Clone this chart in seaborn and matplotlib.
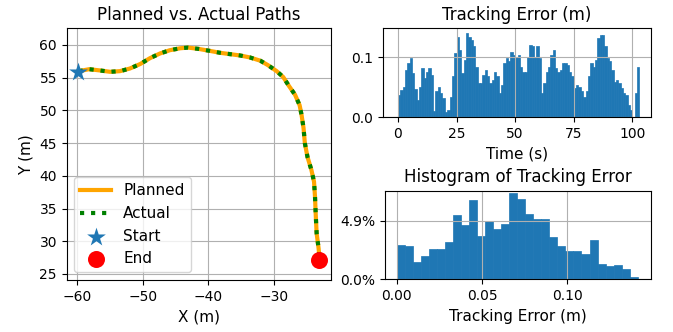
"""
Path tracking summary
- left: planned vs. actual path with start / end markers
- top right: tracking error over time
- bottom right: histogram of the tracking error (share of samples per bin)
"""

import matplotlib
matplotlib.use("Agg")
import matplotlib.pyplot as plt
from matplotlib.ticker import PercentFormatter
import seaborn as sns

# -----------------------------
# Data
# -----------------------------
planned_x = [-59.8, -58.2, -56.5, -55.0, -53.5, -52.0, -50.4, -48.9, -47.4, -45.9,
             -44.3, -43.1, -41.5, -39.8, -38.2, -36.7, -35.2, -33.7, -32.1, -30.9,
             -29.6, -28.6, -27.7, -26.8, -26.1, -25.8, -25.5, -25.3, -24.9, -24.3,
             -23.9, -23.75, -23.65, -23.5, -23.2, -23.1]
planned_y = [56.0, 56.3, 56.1, 55.9, 56.0, 56.4, 57.1, 58.0, 58.7, 59.2,
             59.5, 59.6, 59.4, 59.1, 58.8, 58.6, 58.4, 58.1, 57.6, 56.9,
             56.0, 55.1, 53.7, 52.4, 50.8, 49.3, 47.3, 45.0, 42.9, 40.9,
             39.1, 36.8, 34.3, 31.2, 28.9, 27.8]
# actual path sits on top of the planned one at this scale
actual_x = list(planned_x)
actual_y = list(planned_y)

start_xy = (-59.85, 55.8)
end_xy = (-23.1, 27.2)

time_s = list(range(0, 103))
tracking_error = [
    0.037, 0.046, 0.050, 0.078, 0.090, 0.098, 0.073, 0.047, 0.029, 0.051,
    0.082, 0.065, 0.076, 0.082, 0.070, 0.010, 0.043, 0.050, 0.040, 0.032,
    0.008, 0.012, 0.034, 0.068, 0.107, 0.134, 0.112, 0.073, 0.096, 0.140,
    0.134, 0.129, 0.118, 0.084, 0.057, 0.057, 0.070, 0.079, 0.068, 0.057,
    0.062, 0.076, 0.068, 0.040, 0.054, 0.090, 0.098, 0.093, 0.109, 0.104,
    0.101, 0.104, 0.084, 0.076, 0.076, 0.101, 0.121, 0.118, 0.101, 0.118,
    0.098, 0.040, 0.057, 0.076, 0.084, 0.104, 0.112, 0.082, 0.076, 0.079,
    0.090, 0.090, 0.087, 0.076, 0.068, 0.048, 0.054, 0.051, 0.043, 0.034,
    0.043, 0.068, 0.090, 0.084, 0.096, 0.132, 0.137, 0.137, 0.118, 0.098,
    0.093, 0.079, 0.059, 0.062, 0.057, 0.048, 0.040, 0.037, 0.021, 0.012,
    0.001, 0.040, 0.084,
]

# histogram: 30 bins over [0, 0.1413], share of samples per bin
hist_lo, hist_hi, n_bins = 0.0, 0.1413, 30
hist_share = [
    0.0290, 0.0278, 0.0142, 0.0195, 0.0251, 0.0251, 0.0309, 0.0535, 0.0451, 0.0663,
    0.0365, 0.0490, 0.0420, 0.0459, 0.0718, 0.0671, 0.0543, 0.0504, 0.0504, 0.0354,
    0.0278, 0.0239, 0.0239, 0.0214, 0.0326, 0.0131, 0.0114, 0.0120, 0.0084, 0.0019,
]
bin_w = (hist_hi - hist_lo) / n_bins
bin_mid = [hist_lo + (i + 0.5) * bin_w for i in range(n_bins)]

# -----------------------------
# Figure layout
# -----------------------------
fig = plt.figure(figsize=(6.73, 3.32), dpi=100)
W, H = 673, 332


def rect(x0, y0, x1, y1):
    return [x0 / W, 1 - y1 / H, (x1 - x0) / W, (y1 - y0) / H]


ax_path = fig.add_axes(rect(66.7, 28.3, 331, 280))
ax_err = fig.add_axes(rect(382.7, 28.3, 650.7, 117.3))
ax_hist = fig.add_axes(rect(384.7, 190.7, 650.7, 279.3))

LABEL_FS = 11
TITLE_FS = 12

# -----------------------------
# Left: paths
# -----------------------------
sns.lineplot(x=planned_x, y=planned_y, sort=False, estimator=None, color="orange",
             linewidth=3, label="Planned", ax=ax_path)
sns.lineplot(x=actual_x, y=actual_y, sort=False, estimator=None, color="green",
             linewidth=3, linestyle=":", label="Actual", ax=ax_path)
sns.scatterplot(x=[start_xy[0]], y=[start_xy[1]], marker="*", s=200, color="C0",
                linewidth=0, label="Start", ax=ax_path, zorder=3)
sns.scatterplot(x=[end_xy[0]], y=[end_xy[1]], marker="o", s=150, color="red",
                linewidth=0, label="End", ax=ax_path, zorder=3)
ax_path.set_xlim(-61.63, -21.31)
ax_path.set_ylim(24.08, 62.55)
ax_path.set_xticks([-60, -50, -40, -30])
ax_path.set_yticks([25, 30, 35, 40, 45, 50, 55, 60])
ax_path.set_title("Planned vs. Actual Paths", fontsize=TITLE_FS)
ax_path.set_xlabel("X (m)", fontsize=LABEL_FS)
ax_path.set_ylabel("Y (m)", fontsize=LABEL_FS)
ax_path.grid(True)
ax_path.legend(loc="lower left", fontsize=LABEL_FS)

# -----------------------------
# Top right: error over time
# -----------------------------
ax_err.bar(time_s, tracking_error, width=1.0, align="edge", color="C0",
           edgecolor="C0", linewidth=0.5)
ax_err.set_xlim(-6.5, 107.8)
ax_err.set_ylim(0, 0.148)
ax_err.set_xticks([0, 25, 50, 75, 100])
ax_err.set_yticks([0.0, 0.1])
ax_err.set_title("Tracking Error (m)", fontsize=TITLE_FS)
ax_err.set_xlabel("Time (s)", fontsize=LABEL_FS)
ax_err.grid(True)

# -----------------------------
# Bottom right: histogram
# -----------------------------
sns.histplot(x=bin_mid, weights=hist_share, bins=n_bins, binrange=(hist_lo, hist_hi),
             color="C0", alpha=1, edgecolor="C0", linewidth=0.5, ax=ax_hist)
ax_hist.set_xlim(-0.00703, 0.1489)
ax_hist.set_ylim(0, 0.0741)
ax_hist.set_xticks([0.0, 0.05, 0.10])
ax_hist.set_yticks([0.0, 0.049])
ax_hist.yaxis.set_major_formatter(PercentFormatter(xmax=1, decimals=1))
ax_hist.set_title("Histogram of Tracking Error", fontsize=TITLE_FS)
ax_hist.set_xlabel("Tracking Error (m)", fontsize=LABEL_FS)
ax_hist.set_ylabel("")
ax_hist.grid(True)

plt.savefig("out.png", dpi=100)
plt.close()
